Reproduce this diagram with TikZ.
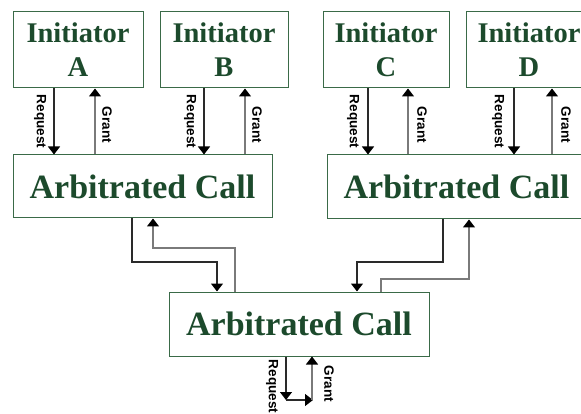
\documentclass[tikz,border=0pt]{standalone}
\usepackage{fontspec}
\setmainfont{Liberation Serif}
\newfontfamily\lblfont{Liberation Sans}
\usetikzlibrary{arrows.meta}
\definecolor{boxgreen}{HTML}{3A6A48}
\definecolor{txtgreen}{HTML}{1C4A2C}
\definecolor{grantgray}{HTML}{7A7A7A}
\definecolor{reqgray}{HTML}{2A2A2A}
\tikzset{
  box/.style={draw=boxgreen, line width=1pt, inner sep=0pt, text=txtgreen, align=center},
  initbox/.style={box, minimum height=76pt, font=\fontsize{28.5}{34}\selectfont\bfseries},
  arbbox/.style={box, minimum width=259pt, minimum height=63pt, font=\fontsize{34}{40}\selectfont\bfseries},
  tip/.style={-{Triangle[width=12pt,length=8pt,color=black]}},
  req/.style={tip, draw=reqgray, line width=1.2pt},
  grant/.style={tip, draw=grantgray, line width=1.4pt},
  lbl/.style={rotate=-90, font=\lblfont\fontsize{13.5}{13.5}\selectfont\bfseries, inner sep=0pt, text=black}
}
\begin{document}
\begin{tikzpicture}[x=1pt,y=-1pt]
\useasboundingbox (0,0) rectangle (581,414);
\clip (0,0) rectangle (581,414);
% initiators
\node[initbox, minimum width=130pt] (A) at (78,50) {Initiator\\A};
\node[initbox, minimum width=128pt] (B) at (224,50) {Initiator\\B};
\node[initbox, minimum width=126pt] (C) at (386,50) {Initiator\\C};
\node[initbox, minimum width=126pt] (D) at (529,50) {Initiator\\D};
% arbitrated calls
\node[arbbox] (L) at (142.5,186.5) {Arbitrated Call};
\node[arbbox, minimum height=64pt] (R) at (456.5,187) {Arbitrated Call};
\node[arbbox, minimum width=260pt, minimum height=64pt] (M) at (299,324) {Arbitrated Call};
% initiator links
\draw[req] (54,0 |- A.south) -- (54,0 |- L.north);
\draw[grant] (95,0 |- L.north) -- (95,0 |- A.south);
\draw[req] (204,0 |- B.south) -- (204,0 |- L.north);
\draw[grant] (245,0 |- L.north) -- (245,0 |- B.south);
\draw[req] (368,0 |- C.south) -- (368,0 |- R.north);
\draw[grant] (408,0 |- R.north) -- (408,0 |- C.south);
\draw[req] (514,0 |- D.south) -- (514,0 |- R.north);
\draw[grant] (552,0 |- R.north) -- (552,0 |- D.south);
\node[lbl] (ra) at (40,121.5) {Request};
\node[lbl] (ga) at (107,125) {Grant};
\node[lbl] (rb) at (190,121.5) {Request};
\node[lbl] (gb) at (257,125) {Grant};
\node[lbl] (rc) at (353,121.5) {Request};
\node[lbl] (gc) at (422,125) {Grant};
\node[lbl] (rd) at (498,121.5) {Request};
\node[lbl] (gd) at (566,125) {Grant};
% lower links
\draw[req] (132,0 |- L.south) -- (132,262) -- (217,262) -- (217,0 |- M.north);
\draw[grant] (235,0 |- M.north) -- (235,248) -- (153,248) -- (153,0 |- L.south);
\draw[req] (443,0 |- R.south) -- (443,262) -- (357,262) -- (357,0 |- M.north);
\draw[grant] (381,0 |- M.north) -- (381,279) -- (469,279) -- (469,0 |- R.south);
% bottom output
\coordinate (o1) at (286,400);
\coordinate (o2) at (313,400);
\coordinate (o3) at (312,400);
\draw[req] (286,0 |- M.south) -- (o1);
\draw[req] (o1) -- (o2);
\draw[grant] (o3) -- (312,0 |- M.south);
\node[lbl] (rm) at (272,386.5) {Request};
\node[lbl] (gm) at (329,384) {Grant};
\end{tikzpicture}
\end{document}
